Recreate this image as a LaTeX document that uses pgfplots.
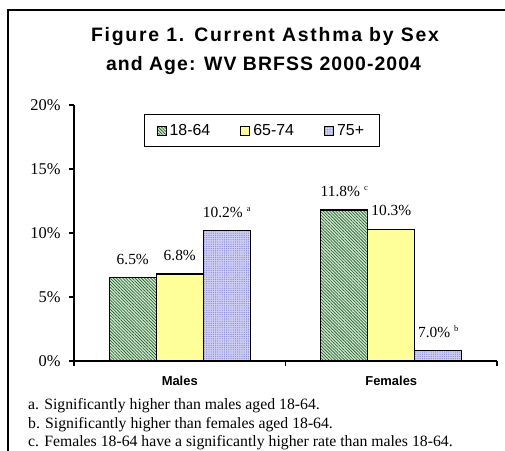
\documentclass[border=0pt]{standalone}
\usepackage{fontspec}
\setmainfont{Liberation Serif}
\setsansfont{Liberation Sans}
\newfontfamily\titlefonta{Liberation Sans}[LetterSpace=9]
\newfontfamily\titlefontb{Liberation Sans}[LetterSpace=5.5]
\usepackage{pgfplots}
\pgfplotsset{compat=1.18}
\usetikzlibrary{patterns.meta}

\definecolor{hatchbg}{RGB}{215,236,212}
\definecolor{hatchfg}{RGB}{40,100,50}
\definecolor{yel}{RGB}{255,255,153}
\definecolor{lavbg}{RGB}{208,208,244}
\definecolor{lavfg}{RGB}{135,135,210}

\newcommand{\supmark}[1]{\hspace{4bp}\raisebox{6bp}{\fontsize{8.5}{8.5}\selectfont #1}}

\begin{document}
\begin{tikzpicture}[x=1bp,y=1bp]
\useasboundingbox (0,0) rectangle (505,451);
\clip (0,0) rectangle (505,451);
\draw[line width=1.8bp] (8,-30) rectangle (540,441);
\node[anchor=base, inner sep=0pt, font=\titlefonta\bfseries\fontsize{19.5}{22}\selectfont] at (265,409) {Figure 1.\hspace{10bp}Current Asthma by Sex};
\node[anchor=base, inner sep=0pt, font=\titlefontb\bfseries\fontsize{19.5}{22}\selectfont] at (263.5,380) {and Age: WV BRFSS 2000-2004};

\begin{axis}[
  at={(74bp,90bp)}, anchor=south west,
  scale only axis, width=423bp, height=256bp,
  ybar=0pt, bar width=47bp,
  xmin=-0.5, xmax=1.5, ymin=0, ymax=20,
  axis x line=bottom, axis y line=left,
  axis line style={-, line width=1.5bp, black},
  xtick={0,1}, xticklabels={Males,Females},
  minor xtick={-0.5,0.5,1.5},
  ytick={0,5,10,15,20},
  tick align=outside, major tick length=5bp, minor tick length=5bp,
  major x tick style={draw=none},
  every tick/.style={line width=1.5bp, black},
  minor tick style={line width=1.5bp, black},
  /pgf/number format/assume math mode=true,
  yticklabel={\pgfmathprintnumber{\tick}\%},
  yticklabel style={font=\fontsize{16.5}{18}\selectfont, xshift=-5bp},
  xticklabel style={font=\sffamily\bfseries\fontsize{13}{15}\selectfont, yshift=-7bp},
  nodes near coords,
  point meta=explicit symbolic,
  nodes near coords style={font=\fontsize{15.5}{17}\selectfont, anchor=south, yshift=9bp},
  legend columns=3,
  legend style={at={(0.444,0.90)}, anchor=center, draw=black, line width=1bp,
    font=\sffamily\fontsize{16}{18}\selectfont, inner xsep=12bp, inner ysep=7.5bp,
    nodes={inner xsep=3bp},
    /tikz/every even column/.append style={column sep=27bp}},
  legend image code/.code={\draw[#1, line width=1bp] (0bp,-4.5bp) rectangle (9bp,4.5bp);},
  every axis plot/.append style={draw=black, line width=1.3bp},
]
\addplot[fill=hatchbg, postaction={pattern={Lines[angle=-45,distance=2.2bp,line width=0.75bp]}, pattern color=hatchfg}]
  coordinates {(0,6.5) [6.5\%] (1,11.8) [11.8\%\supmark{c}]};
\addplot[fill=yel]
  coordinates {(0,6.8) [6.8\%] (1,10.3) [10.3\%]};
\addplot[fill=lavbg, postaction={pattern={Dots[distance=2.2bp,radius=0.65bp]}, pattern color=lavfg}]
  coordinates {(0,10.2) [10.2\%\supmark{a}] (1,0.8) [7.0\%\supmark{b}]};
\legend{18-64,65-74,75+}
\end{axis}

\node[anchor=base west, inner sep=0pt, font=\fontsize{15.8}{18}\selectfont] at (28,41) {a. Significantly higher than males aged 18-64.};
\node[anchor=base west, inner sep=0pt, font=\fontsize{15.8}{18}\selectfont] at (28,22.5) {b. Significantly higher than females aged 18-64.};
\node[anchor=base west, inner sep=0pt, font=\fontsize{15.8}{18}\selectfont] at (28,4) {c. Females 18-64 have a significantly higher rate than males 18-64.};
\end{tikzpicture}
\end{document}
